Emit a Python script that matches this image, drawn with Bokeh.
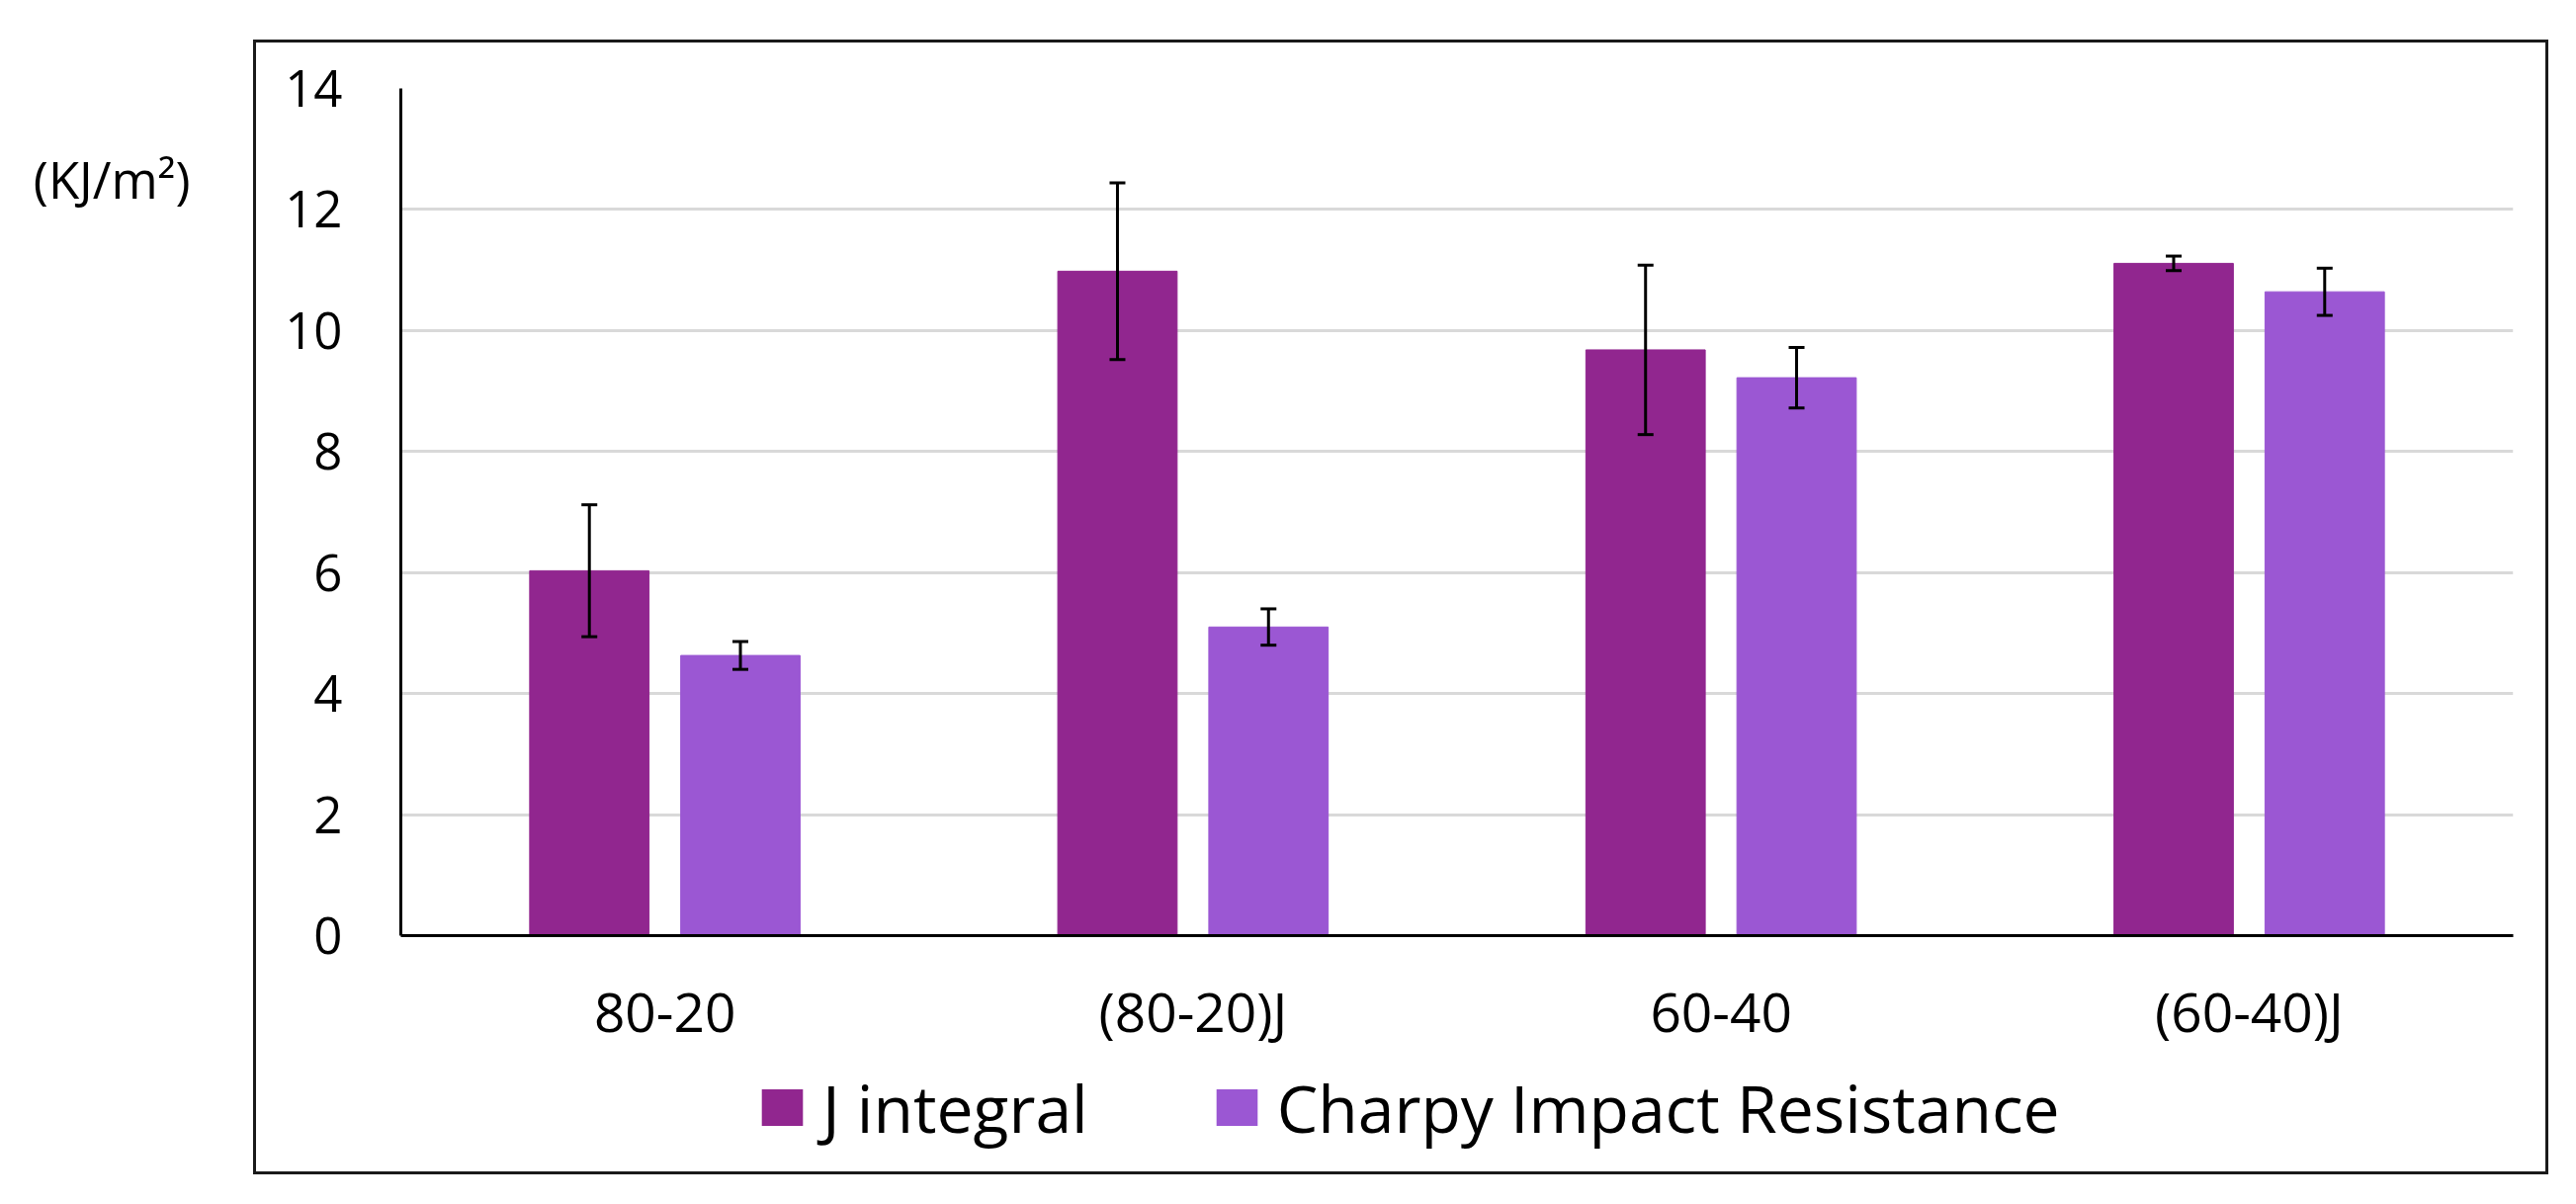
from bokeh.plotting import figure
from bokeh.layouts import column
from bokeh.models import (ColumnDataSource, FactorRange, Range1d, Whisker, TeeHead,
                          Legend, LegendItem, LinearAxis, FixedTicker, InlineStyleSheet)
from bokeh.transform import dodge
from bokeh.embed import file_html
from bokeh.resources import INLINE

# ---- data ----
categories = ["80-20", "(80-20)J", "60-40", "(60-40)J"]
j_integral = [6.03, 10.98, 9.68, 11.11]
j_integral_err = [1.09, 1.46, 1.40, 0.12]
charpy = [4.63, 5.10, 9.22, 10.64]
charpy_err = [0.23, 0.30, 0.50, 0.39]
y_ticks = [0, 2, 4, 6, 8, 10, 12, 14]
series_names = ["J integral", "Charpy Impact Resistance"]
y_unit_label = "(KJ/m²)"

J_COLOR = "#91268F"
C_COLOR = "#9B57D3"
FONT = "Open Sans"
UNIT_LABEL_Y = 12.5   # vertical position of the unit caption (axis units)

src = ColumnDataSource(dict(
    cat=categories,
    j=j_integral,
    j_up=[v + e for v, e in zip(j_integral, j_integral_err)],
    j_lo=[v - e for v, e in zip(j_integral, j_integral_err)],
    c=charpy,
    c_up=[v + e for v, e in zip(charpy, charpy_err)],
    c_lo=[v - e for v, e in zip(charpy, charpy_err)],
))

box_css = InlineStyleSheet(css="""
:host { position: relative; }
:host::after {
  content: ""; position: absolute; left: 256px; top: 40px;
  width: 2322px; height: 1148px; border: 3px solid #1a1a1a;
  box-sizing: border-box; pointer-events: none;
}
""")

# ---------------- main chart ----------------
p = figure(width=2590, height=1070, output_backend="svg", toolbar_location=None,
           x_range=FactorRange(factors=categories), y_range=Range1d(0, 14),
           min_border_left=405, min_border_right=48, min_border_top=89, min_border_bottom=124)
p.outline_line_color = None
p.background_fill_color = "white"
p.border_fill_color = "white"

off = 0.143
bw = 0.226
r_j = p.vbar(x=dodge("cat", -off, range=p.x_range), top="j", width=bw, source=src,
             fill_color=J_COLOR, line_color=J_COLOR, line_width=1)
r_c = p.vbar(x=dodge("cat", off, range=p.x_range), top="c", width=bw, source=src,
             fill_color=C_COLOR, line_color=C_COLOR, line_width=1)

for base_off, up, lo in [(-off, "j_up", "j_lo"), (off, "c_up", "c_lo")]:
    w = Whisker(base=dodge("cat", base_off, range=p.x_range), upper=up, lower=lo, source=src,
                line_color="black", line_width=3, level="overlay",
                upper_head=TeeHead(size=16, line_width=3, line_color="black"),
                lower_head=TeeHead(size=16, line_width=3, line_color="black"))
    p.add_layout(w)

p.yaxis.ticker = FixedTicker(ticks=y_ticks)
p.yaxis.axis_line_color = "black"
p.yaxis.axis_line_width = 3
p.yaxis.major_tick_line_color = None
p.yaxis.minor_tick_line_color = None
p.yaxis.major_tick_out = 0
p.yaxis.major_tick_in = 0
p.yaxis.major_label_standoff = 59
p.yaxis.major_label_text_font = FONT
p.yaxis.major_label_text_font_size = "51px"
p.yaxis.major_label_text_color = "black"

p.xaxis.axis_line_color = "black"
p.xaxis.axis_line_width = 3
p.xaxis.major_tick_line_color = None
p.xaxis.minor_tick_line_color = None
p.xaxis.major_tick_out = 0
p.xaxis.major_tick_in = 0
p.xaxis.major_label_standoff = 38
p.xaxis.major_label_text_font = FONT
p.xaxis.major_label_text_font_size = "55px"
p.xaxis.major_label_text_color = "black"

p.xgrid.grid_line_color = None
p.ygrid.grid_line_color = "#d9d9d9"
p.ygrid.grid_line_width = 3

unit_axis = LinearAxis(ticker=FixedTicker(ticks=[UNIT_LABEL_Y]),
                       major_label_overrides={UNIT_LABEL_Y: y_unit_label},
                       axis_line_color=None, major_tick_line_color=None,
                       minor_tick_line_color=None, major_tick_out=0, major_tick_in=0,
                       major_label_standoff=93, major_label_text_font=FONT,
                       major_label_text_font_size="51px", major_label_text_color="black")
p.add_layout(unit_axis, "left")

# ---------------- legend strip ----------------
lf = figure(width=2590, height=100, output_backend="svg", toolbar_location=None,
            x_axis_type=None, y_axis_type=None, min_border=0,
            x_range=Range1d(0, 1), y_range=Range1d(0, 1))
lf.outline_line_color = None
lf.grid.visible = False
lf.background_fill_color = "white"
lf.border_fill_color = "white"
# zero-height legend proxies (nothing visible is drawn by them)
proxy_j = lf.vbar(x=[0], top=[0], width=0, fill_color=J_COLOR, line_color=None)
proxy_c = lf.vbar(x=[0], top=[0], width=0, fill_color=C_COLOR, line_color=None)

legend = Legend(items=[LegendItem(label=series_names[0], renderers=[proxy_j]),
                       LegendItem(label=series_names[1], renderers=[proxy_c])],
                orientation="horizontal", location="left",
                border_line_color=None, background_fill_alpha=0,
                padding=0, margin=360, spacing=124, label_standoff=15,
                glyph_width=52, glyph_height=46,
                label_text_font=FONT, label_text_font_size="66px", label_text_color="black")
lf.add_layout(legend, "center")

layout = column(p, lf, spacing=0, stylesheets=[box_css])

open("out.html", "w").write(file_html(layout, INLINE))
